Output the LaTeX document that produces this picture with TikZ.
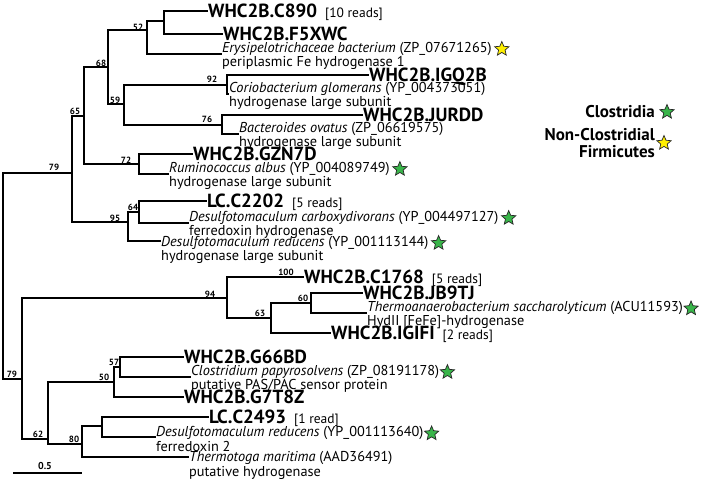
\documentclass[tikz,border=0pt]{standalone}
\usepackage{fontspec}
\setmainfont{PT Sans}
\usepackage{xcolor}
\usepackage{tikz}
\usetikzlibrary{shapes, arrows, positioning}
\definecolor{cgreen}{RGB}{57,181,74}
\definecolor{cyellow}{RGB}{255,240,0}
\newcommand{\reads}[1]{\hspace{8pt}{\normalfont\fontsize{13.5}{13.5}\selectfont[#1]}}

\begin{document}
\begin{tikzpicture}[x=1pt,y=-1pt]
            \tikzstyle{branch}=[line width=1.1pt, line cap=rect]
            \tikzstyle{seq}=[anchor=west, inner sep=1pt, text height=13.2pt, text depth=0pt, font=\fontsize{19}{19}\selectfont\bfseries]
            \tikzstyle{ref}=[anchor=west, inner sep=1pt, yshift=-2pt, align=left, font=\fontsize{14.3}{13.2}\selectfont]
            \tikzstyle{boot}=[inner sep=0pt, font=\fontsize{9}{9}\selectfont\bfseries]
            \tikzstyle{gstar}=[star, star points=5, star point ratio=2.2, draw=black!85, fill=cgreen, line width=0.7pt, minimum size=15pt, inner sep=0pt]
            \tikzstyle{ystar}=[gstar, fill=cyellow]
            \useasboundingbox (0,0) rectangle (709,480);

            \coordinate (root) at (3,276);
            \coordinate (u79) at (72,173);
            \coordinate (n65) at (84,116);
            \coordinate (n68) at (108,67);
            \coordinate (n52) at (147,30);
            \coordinate (na) at (164,21);
            \coordinate (n59) at (124,104);
            \coordinate (n92) at (227,85);
            \coordinate (n76) at (222,125);
            \coordinate (n72) at (139,164);
            \coordinate (n95) at (128,222);
            \coordinate (n64) at (139,212);
            \coordinate (l79) at (22,379);
            \coordinate (n94) at (227,298);
            \coordinate (n63) at (271,318);
            \coordinate (n60) at (311,303);
            \coordinate (n62) at (48,439);
            \coordinate (n50) at (114,382);
            \coordinate (n57) at (120,367);
            \coordinate (n80) at (82,444);
            \coordinate (nb) at (102,426);

            \node[seq] (c890) at (207,11) {WHC2B.C890\reads{10 reads}};
            \node[seq] (f5xwc) at (222,34) {WHC2B.F5XWC};
            \node[ref] (erys) at (221,54) {\textit{Erysipelotrichaceae bacterium} (ZP\_07671265)\\periplasmic Fe hydrogenase 1};
            \node[ystar, right=4pt of erys.north east, yshift=-8pt] (erysS) {};
            \node[seq] (igq) at (368,75) {WHC2B.IGQ2B};
            \node[ref] (corio) at (228,94) {\textit{Coriobacterium glomerans} (YP\_004373051)\\hydrogenase large subunit};
            \node[seq] (jurdd) at (362,115) {WHC2B.JURDD};
            \node[ref] (bacter) at (238,134) {\textit{Bacteroides ovatus} (ZP\_06619575)\\hydrogenase large subunit};
            \node[seq] (gzn) at (192,154) {WHC2B.GZN7D};
            \node[ref] (rumino) at (168,174) {\textit{Ruminococcus albus} (YP\_004089749)\\hydrogenase large subunit};
            \node[gstar, right=4pt of rumino.north east, yshift=-8pt] (ruminoS) {};
            \node[seq] (c2202) at (206,201) {LC.C2202\reads{5 reads}};
            \node[ref] (dcarb) at (188,223) {\textit{Desulfotomaculum carboxydivorans} (YP\_004497127)\\ferredoxin hydrogenase};
            \node[gstar, right=4pt of dcarb.north east, yshift=-8pt] (dcarbS) {};
            \node[ref, yshift=-8pt] (dred1) at (160,240) {\textit{Desulfotomaculum reducens} (YP\_001113144)\\hydrogenase large subunit};
            \node[gstar, right=4pt of dred1.north east, yshift=-8pt] (dred1S) {};

            \node[seq] (c1768) at (303,277) {WHC2B.C1768\reads{5 reads}};
            \node[seq] (jb9) at (362,293) {WHC2B.JB9TJ};
            \node[ref] (thermoan) at (366,313) {\textit{Thermoanaerobacterium saccharolyticum} (ACU11593)\\HydII [FeFe]-hydrogenase};
            \node[gstar, right=2pt of thermoan.north east, yshift=-8pt] (thermoanS) {};
            \node[seq] (igifi) at (330,333) {WHC2B.IGIFI\reads{2 reads}};
            \node[seq] (g66) at (183,357) {WHC2B.G66BD};
            \node[ref] (cpap) at (190,377) {\textit{Clostridium papyrosolvens} (ZP\_08191178)\\putative PAS/PAC sensor protein};
            \node[gstar, right=2pt of cpap.north east, yshift=-8pt] (cpapS) {};
            \node[seq] (g7t) at (183,397) {WHC2B.G7T8Z};
            \node[seq] (c2493) at (208,417) {LC.C2493\reads{1 read}};
            \node[ref] (dred2) at (155,437) {\textit{Desulfotomaculum reducens} (YP\_001113640)\\ferredoxin 2};
            \node[gstar, right=2pt of dred2.north east, yshift=-8pt] (dred2S) {};
            \node[ref, yshift=-6.3pt] (tmar) at (188,457) {\textit{Thermotoga maritima} (AAD36491)\\putative hydrogenase};

            \draw[branch] (root) |- (u79) (root) |- (l79);
            \draw[branch] (u79) |- (n65) (u79) |- (n95);
            \draw[branch] (n65) |- (n68) (n65) |- (n72);
            \draw[branch] (n68) |- (n52) (n68) |- (n59);
            \draw[branch] (n52) |- (na) (n52) |- ([yshift=2pt]erys.west);
            \draw[branch] (na) |- (c890) (na) |- (f5xwc);
            \draw[branch] (n59) |- (n92) (n59) |- (n76);
            \draw[branch] (n92) |- (igq) (n92) |- ([yshift=2pt]corio.west);
            \draw[branch] (n76) |- (jurdd) (n76) |- ([yshift=2pt]bacter.west);
            \draw[branch] (n72) |- (gzn) (n72) |- ([yshift=2pt]rumino.west);
            \draw[branch] (n95) |- (n64) (n95) |- ([yshift=9pt]dred1.west);
            \draw[branch] (n64) |- (c2202) (n64) |- ([yshift=2pt]dcarb.west);
            \draw[branch] (l79) |- (n94) (l79) |- (n62);
            \draw[branch] (n94) |- (c1768) (n94) |- (n63);
            \draw[branch] (n63) |- (n60) (n63) |- (igifi);
            \draw[branch] (n60) |- (jb9) (n60) |- ([yshift=2pt]thermoan.west);
            \draw[branch] (n62) |- (n50) (n62) |- (n80);
            \draw[branch] (n50) |- (n57) (n50) |- (g7t);
            \draw[branch] (n57) |- (g66) (n57) |- ([yshift=2pt]cpap.west);
            \draw[branch] (n80) |- (nb) (n80) |- ([yshift=8.3pt]tmar.west);
            \draw[branch] (nb) |- (c2493) (nb) |- ([yshift=2pt]dred2.west);

            \node[boot] (b52) at (138,27) {52};
            \node[boot] (b68) at (101,63) {68};
            \node[boot] (b59) at (115,100) {59};
            \node[boot] (b92) at (212,79) {92};
            \node[boot] (b76) at (207,119) {76};
            \node[boot] (b65) at (75,111) {65};
            \node[boot] (b72) at (126,160) {72};
            \node[boot] (b64) at (133,207) {64};
            \node[boot] (b95) at (115,218) {95};
            \node[boot] (bu79) at (54,167) {79};
            \node[boot] (b100) at (286,272) {100};
            \node[boot] (b94) at (210,294) {94};
            \node[boot] (b60) at (303,298) {60};
            \node[boot] (b63) at (260,313) {63};
            \node[boot] (bl79) at (12,374) {79};
            \node[boot] (b57) at (114,362) {57};
            \node[boot] (b50) at (104,377) {50};
            \node[boot] (b62) at (38,434) {62};
            \node[boot] (b80) at (74,439) {80};

            \coordinate (s0) at (14,473);
            \coordinate (s1) at (81,473);
            \draw[branch] (s0) -- (s1);
            \node[boot, font=\fontsize{10}{10}\selectfont\bfseries] (sbl) at (45,466) {0.5};

            \node[anchor=east, inner sep=0pt, font=\fontsize{17}{17}\selectfont\bfseries] (clos) at (655,112) {Clostridia};
            \node[gstar, right=7pt of clos] (closS) {};
            \node[anchor=east, align=right, inner sep=0pt, font=\fontsize{17}{16.5}\selectfont\bfseries] (ncf) at (655,143) {Non-Clostridial\\Firmicutes};
            \node[ystar, right=4pt of ncf] (ncfS) {};
;\end{tikzpicture}
\end{document}
